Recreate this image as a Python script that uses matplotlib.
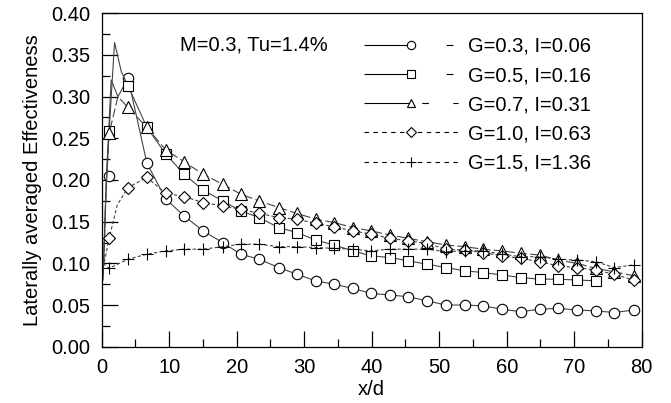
import matplotlib
matplotlib.use("Agg")
import matplotlib.pyplot as plt
from matplotlib.ticker import MultipleLocator
from matplotlib.lines import Line2D

plt.rcParams['font.family'] = ['Liberation Sans', 'DejaVu Sans']

# marker stations (x/d)
x_m = [1.1, 3.9, 6.7, 9.5, 12.2, 15.0, 17.9, 20.6, 23.3, 26.2, 28.9, 31.7, 34.4,
       37.2, 39.9, 42.7, 45.4, 48.2, 51.0, 53.8, 56.5, 59.3, 62.1, 64.9, 67.6,
       70.4, 73.2, 75.9, 78.8]

eta_g03 = [0.205, 0.322, 0.220, 0.177, 0.157, 0.139, 0.125, 0.111, 0.105, 0.095,
           0.087, 0.079, 0.075, 0.070, 0.064, 0.062, 0.060, 0.055, 0.050, 0.050,
           0.049, 0.045, 0.042, 0.045, 0.046, 0.044, 0.043, 0.041, 0.044]
eta_g05 = [0.259, 0.313, 0.263, 0.231, 0.207, 0.188, 0.175, 0.163, 0.155, 0.143,
           0.137, 0.128, 0.122, 0.115, 0.109, 0.107, 0.103, 0.099, 0.095, 0.091,
           0.089, 0.086, 0.083, 0.081, 0.081, 0.080, 0.079]
eta_g07 = [0.256, 0.287, 0.263, 0.236, 0.222, 0.207, 0.195, 0.183, 0.175, 0.167,
           0.160, 0.153, 0.149, 0.143, 0.139, 0.134, 0.130, 0.126, 0.122, 0.120,
           0.117, 0.115, 0.112, 0.110, 0.104, 0.100, 0.094, 0.090, 0.085]
eta_g10 = [0.130, 0.191, 0.203, 0.184, 0.180, 0.173, 0.169, 0.165, 0.160, 0.155,
           0.153, 0.148, 0.144, 0.139, 0.135, 0.130, 0.127, 0.124, 0.117, 0.116,
           0.113, 0.109, 0.106, 0.102, 0.097, 0.095, 0.092, 0.087, 0.080]
eta_g15 = [0.094, 0.105, 0.111, 0.115, 0.117, 0.117, 0.120, 0.123, 0.123, 0.120,
           0.120, 0.119, 0.118, 0.117, 0.115, 0.117, 0.117, 0.117, 0.114, 0.115,
           0.115, 0.111, 0.108, 0.108, 0.105, 0.104, 0.102, 0.095, 0.098]

# near-hole line traces (before the first marker station)
xl_g03 = [0.2, 0.7, 1.4, 2.4]
yl_g03 = [0.085, 0.205, 0.320, 0.300]
xl_g05 = [0.2, 0.6, 1.1, 1.9, 2.9]
yl_g05 = [0.080, 0.180, 0.259, 0.365, 0.330]
xl_g07 = [0.3, 0.7, 1.1, 2.4]
yl_g07 = [0.100, 0.200, 0.256, 0.300]
xl_g10 = [0.2, 0.6, 1.1, 2.3]
yl_g10 = [0.095, 0.110, 0.130, 0.170]
xl_g15 = [0.2, 0.6, 1.1]
yl_g15 = [0.100, 0.097, 0.094]

labels = ['G=0.3, I=0.06', 'G=0.5, I=0.16', 'G=0.7, I=0.31',
          'G=1.0, I=0.63', 'G=1.5, I=1.36']
markers = ['o', 's', '^', 'D', '+']
msizes = [7.5, 7.5, 8, 6, 9]
lstyles = ['-', '-', (0, (8, 3)), (0, (3, 2)), (0, (3, 2))]
# legend handle dash patterns (mimic the original's key drawing)
leg_styles = [(0, (41, 33, 6, 100)), (0, (41, 33, 6, 100)),
              (0, (41, 11, 6, 22, 6, 100)), (0, (4, 4)), (0, (4, 4))]
series = [eta_g03, eta_g05, eta_g07, eta_g10, eta_g15]
lines_x = [xl_g03, xl_g05, xl_g07, xl_g10, xl_g15]
lines_y = [yl_g03, yl_g05, yl_g07, yl_g10, yl_g15]

FS = 14.5
fig = plt.figure(figsize=(6.71, 4.03), dpi=100)
ax = fig.add_axes([0.1516, 0.1397, 0.8047, 0.8273])

handles = []
for ys, lx, ly, mk, ms, ls, lls, lab in zip(series, lines_x, lines_y, markers, msizes,
                                            lstyles, leg_styles, labels):
    xs = x_m[:len(ys)]
    ax.plot(lx + xs[1:], ly + ys[1:], color='#444444', lw=0.8, ls=ls)
    ax.plot(xs, ys, ls='none', marker=mk, ms=ms, mfc='white', mec='black', mew=0.8)
    h = Line2D([], [], color='black', lw=0.8, ls=lls, marker=mk, ms=ms * 0.8,
               mfc='white', mec='black', mew=0.8, label=lab)
    handles.append(h)

ax.set_xlim(0, 80)
ax.set_ylim(0, 0.40)
ax.xaxis.set_major_locator(MultipleLocator(10))
ax.xaxis.set_minor_locator(MultipleLocator(5))
ax.yaxis.set_major_locator(MultipleLocator(0.05))
ax.yaxis.set_minor_locator(MultipleLocator(0.025))
ax.yaxis.set_major_formatter(plt.FuncFormatter(lambda v, p: f"{v:.2f}"))
ax.tick_params(which='major', direction='in', length=11.5, width=0.9, labelsize=FS,
               top=False, right=False, pad=8)
ax.tick_params(which='minor', direction='in', length=5.5, width=0.9,
               top=False, right=False)
for s in ax.spines.values():
    s.set_linewidth(0.9)

ax.set_xlabel('x/d', fontsize=FS, labelpad=2)
ax.set_ylabel('Laterally averaged Effectiveness', fontsize=FS, labelpad=7)

ax.text(11.6, 0.362, 'M=0.3, Tu=1.4%', fontsize=FS, va='center', ha='left')
ax.legend(handles=handles, loc='upper left', bbox_to_anchor=(0.46, 0.972),
          frameon=False, fontsize=FS, handlelength=4.67, handletextpad=0.5,
          labelspacing=0.51, numpoints=1, borderaxespad=0.3)

fig.savefig('out.png', dpi=100)
